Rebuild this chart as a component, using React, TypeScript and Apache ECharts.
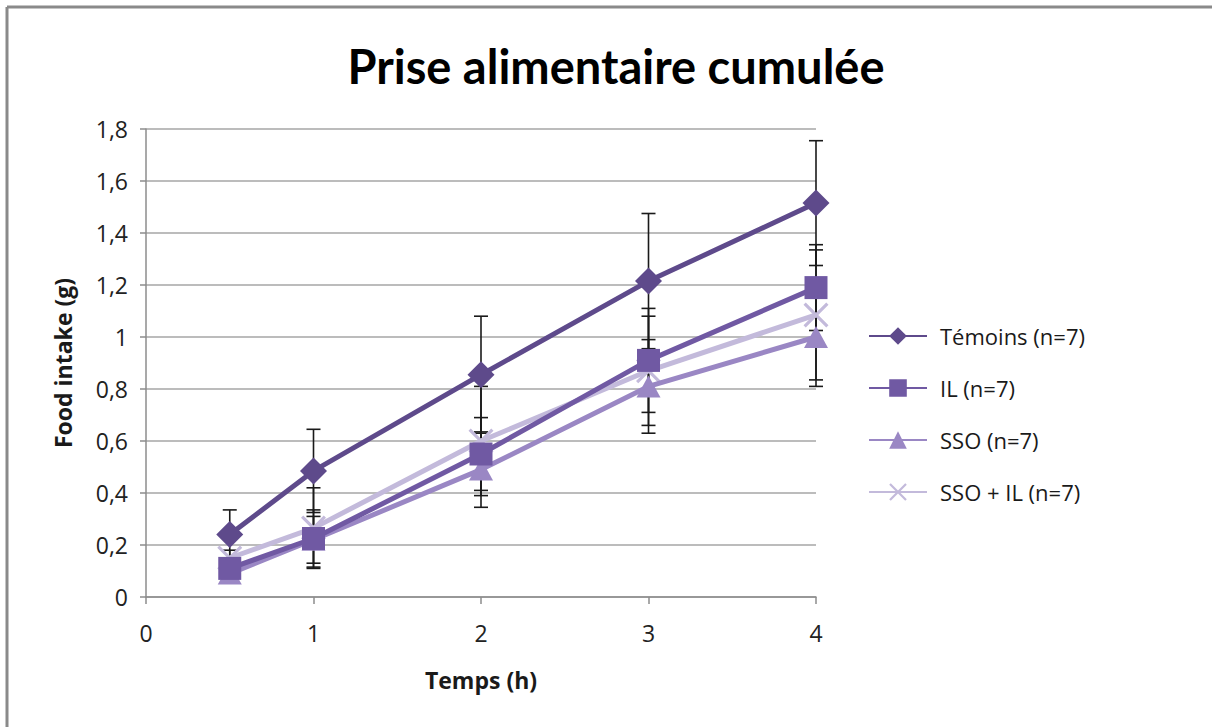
import React, { useEffect, useRef } from "react";
import * as echarts from "echarts";

const times = [0.5, 1, 2, 3, 4];
const seriesNames = ["Témoins (n=7)", "IL (n=7)", "SSO (n=7)", "SSO + IL (n=7)"];
const temoins = [0.24, 0.485, 0.855, 1.215, 1.515];
const temoinsErr = [0.095, 0.16, 0.225, 0.26, 0.24];
const il = [0.11, 0.225, 0.55, 0.91, 1.19];
const ilErr = [0.035, 0.11, 0.14, 0.2, 0.165];
const sso = [0.09, 0.22, 0.49, 0.81, 1.0];
const ssoErr = [0.03, 0.09, 0.145, 0.18, 0.19];
const ssoIl = [0.15, 0.265, 0.6, 0.87, 1.085];
const ssoIlErr = [0.03, 0.155, 0.21, 0.21, 0.25];

const colors = ["#5E4A8B", "#7059A3", "#9A87C4", "#C3BADB"];
const X_PATH =
  "path://M0,1.8 L1.8,0 L10,8.2 L18.2,0 L20,1.8 L11.8,10 L20,18.2 L18.2,20 L10,11.8 L1.8,20 L0,18.2 L8.2,10 Z";
const symbols = ["diamond", "rect", "triangle", X_PATH];
const symbolSizes: any[] = [[27, 27], [23, 23], [24, 22], [25, 25]];

const TITLE_FONT = "Lato";
const FONT = "Open Sans";

export default function App() {
  const ref = useRef<HTMLDivElement>(null);
  useEffect(() => {
    if (!ref.current) return;
    const chart = echarts.init(ref.current, null, { renderer: "svg" });
    const values = [temoins, il, sso, ssoIl];
    const errs = [temoinsErr, ilErr, ssoErr, ssoIlErr];

    const errSeries = values.map((vals, si) => ({
      type: "custom",
      name: seriesNames[si] + " err",
      z: 1,
      silent: true,
      data: times.map((t, i) => [t, vals[i], errs[si][i]]),
      encode: { x: 0, y: 1 },
      renderItem: (params: any, api: any) => {
        const x = api.value(0);
        const y = api.value(1);
        const e = api.value(2);
        const top = api.coord([x, y + e]);
        const bot = api.coord([x, y - e]);
        const hw = 7;
        const style = { stroke: "#1a1a1a", lineWidth: 1.6 };
        return {
          type: "group",
          children: [
            { type: "line", shape: { x1: top[0], y1: top[1], x2: bot[0], y2: bot[1] }, style },
            { type: "line", shape: { x1: top[0] - hw, y1: top[1], x2: top[0] + hw, y2: top[1] }, style },
            { type: "line", shape: { x1: bot[0] - hw, y1: bot[1], x2: bot[0] + hw, y2: bot[1] }, style },
          ],
        };
      },
    }));

    const lineSeries = values.map((vals, si) => ({
      type: "line",
      name: seriesNames[si],
      z: 3 + (3 - si),
      data: times.map((t, i) => [t, vals[i]]),
      symbol: symbols[si],
      symbolSize: symbolSizes[si],
      showAllSymbol: true,
      lineStyle: { color: colors[si], width: 5 },
      itemStyle: { color: colors[si] },
    }));

    chart.setOption({
      animation: false,
      backgroundColor: "#ffffff",
      title: {
        text: "Prise alimentaire cumulée",
        left: 611,
        textAlign: "center",
        top: 37,
        textStyle: { fontFamily: TITLE_FONT, fontSize: 47, fontWeight: "bold", color: "#000" },
      },
      legend: {
        orient: "vertical",
        left: 863,
        top: 320,
        itemWidth: 58,
        itemHeight: 22,
        itemGap: 30,
        data: seriesNames,
        textStyle: { fontFamily: FONT, fontSize: 22, color: "#1a1a1a", padding: [0, 0, 0, 8] },
      },
      grid: { left: 146, right: 396, top: 129, bottom: 130 },
      xAxis: {
        type: "value",
        min: 0,
        max: 4,
        interval: 1,
        name: "Temps (h)",
        nameLocation: "middle",
        nameGap: 71,
        nameTextStyle: { fontFamily: FONT, fontSize: 23, fontWeight: "bold", color: "#1a1a1a" },
        axisLine: { show: true, lineStyle: { color: "#8c8c8c", width: 1.5 } },
        axisTick: { show: true, length: 7, lineStyle: { color: "#8c8c8c", width: 1.5 } },
        axisLabel: { fontFamily: FONT, fontSize: 23, color: "#222", margin: 24 },
        splitLine: { show: false },
      },
      yAxis: {
        type: "value",
        min: 0,
        max: 1.8,
        interval: 0.2,
        name: "Food intake (g)",
        nameLocation: "middle",
        nameGap: 72,
        nameRotate: 90,
        nameTextStyle: { fontFamily: FONT, fontSize: 23, fontWeight: "bold", color: "#1a1a1a" },
        axisLine: { show: true, lineStyle: { color: "#8c8c8c", width: 1.5 } },
        axisTick: { show: true, length: 6, lineStyle: { color: "#8c8c8c", width: 1.5 } },
        axisLabel: {
          fontFamily: FONT,
          fontSize: 23,
          color: "#222",
          margin: 18,
          formatter: (v: number) => String(+v.toFixed(1)).replace(".", ","),
        },
        splitLine: { show: true, lineStyle: { color: "#a6a6a6", width: 1.5 } },
      },
      graphic: [
        { type: "line", shape: { x1: 7, y1: 7, x2: 1212, y2: 7 }, style: { stroke: "#8a8a8a", lineWidth: 3 } },
        { type: "line", shape: { x1: 7, y1: 7, x2: 7, y2: 727 }, style: { stroke: "#8a8a8a", lineWidth: 3 } },
      ],
      series: [...errSeries, ...lineSeries],
    });
    return () => chart.dispose();
  }, []);
  return (
    <div
      ref={ref}
      style={{ position: "fixed", left: 0, top: 0, width: 1212, height: 727, background: "#fff" }}
    />
  );
}
